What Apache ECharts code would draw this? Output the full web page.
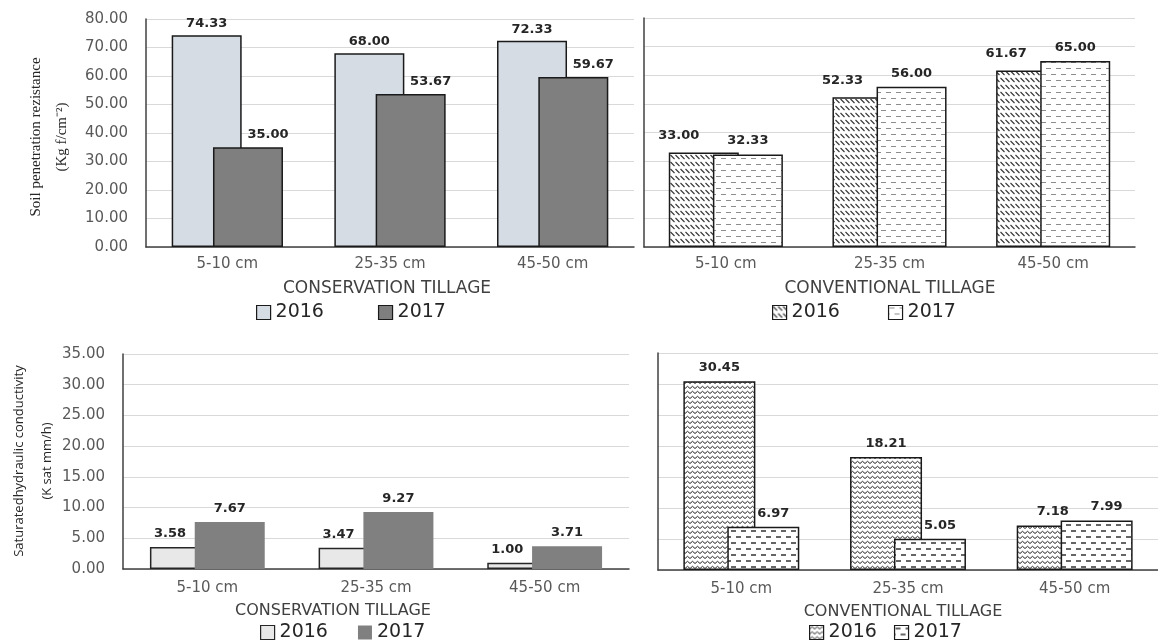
<!DOCTYPE html>
<html><head><meta charset="utf-8">
<script src="https://cdn.jsdelivr.net/npm/echarts@6/dist/echarts.min.js"></script>
<style>html,body{margin:0;padding:0;background:#fff}#c{width:1158px;height:644px}</style>
</head><body><div id="c"></div>
<script>
// ---- data ----
const depths = ['5-10 cm', '25-35 cm', '45-50 cm'];
const years = ['2016', '2017'];
const resistConservation2016 = [74.33, 68.00, 72.33];
const resistConservation2017 = [35.00, 53.67, 59.67];
const resistConventional2016 = [33.00, 52.33, 61.67];
const resistConventional2017 = [32.33, 56.00, 65.00];
const ksatConservation2016 = [3.58, 3.47, 1.00];
const ksatConservation2017 = [7.67, 9.27, 3.71];
const ksatConventional2016 = [30.45, 18.21, 7.18];
const ksatConventional2017 = [6.97, 5.05, 7.99];
const resistAxis = { min: 0, max: 80, interval: 10 };
const ksatAxis = { min: 0, max: 35, interval: 5 };
const panelTitles = ['CONSERVATION TILLAGE', 'CONVENTIONAL TILLAGE'];
const resistName = ['Soil penetration rezistance', '(Kg f/cm\u207B\u00B2)'];
const ksatName = ['Saturatedhydraulic conductivity', '(K sat mm/h)'];

// ---- patterns ----
function pattern(w, h, draw) {
  const c = document.createElement('canvas');
  c.width = w; c.height = h;
  const g = c.getContext('2d');
  g.fillStyle = '#fff'; g.fillRect(0, 0, w, h);
  draw(g);
  return { image: c, repeat: 'repeat' };
}
const diagPat = pattern(5, 7, g => {
  g.strokeStyle = '#333'; g.lineWidth = 1.1;
  g.beginPath(); g.moveTo(0.5, 1); g.lineTo(4.5, 5); g.stroke();
});
const lightDashPat = pattern(10, 12, g => {
  g.strokeStyle = '#8c8c8c'; g.lineWidth = 1;
  g.beginPath();
  g.moveTo(1, 2.5); g.lineTo(6, 2.5);
  g.moveTo(6, 8.5); g.lineTo(11, 8.5);
  g.moveTo(-4, 8.5); g.lineTo(1, 8.5);
  g.stroke();
});
const wavePat = pattern(5, 5, g => {
  g.strokeStyle = '#222'; g.lineWidth = 1;
  g.beginPath(); g.moveTo(0, 3.5); g.lineTo(2.5, 1.3); g.lineTo(5, 3.5); g.stroke();
});
const darkDashPat = pattern(10, 12, g => {
  g.strokeStyle = '#333'; g.lineWidth = 1.3;
  g.beginPath();
  g.moveTo(1, 3); g.lineTo(6, 3);
  g.moveTo(6, 9); g.lineTo(11, 9);
  g.moveTo(-4, 9); g.lineTo(1, 9);
  g.stroke();
});

// ---- styles ----
const FONT = 'DejaVu Sans';
const AX = '#404040';
const fmt = v => Number(v).toFixed(2);
const styles = {
  tl16: { color: '#d6dce4', borderColor: '#1a1a1a', borderWidth: 1.5 },
  tl17: { color: '#7f7f7f', borderColor: '#1a1a1a', borderWidth: 1.5 },
  tr16: { color: diagPat, borderColor: '#1a1a1a', borderWidth: 1.5 },
  tr17: { color: lightDashPat, borderColor: '#1a1a1a', borderWidth: 1.5 },
  bl16: { color: '#e8e8e8', borderColor: '#262626', borderWidth: 1.5 },
  bl17: { color: '#808080', borderWidth: 0 },
  br16: { color: wavePat, borderColor: '#1a1a1a', borderWidth: 1.5 },
  br17: { color: darkDashPat, borderColor: '#1a1a1a', borderWidth: 1.5 }
};

const grids = [
  { left: 146, top: 19, width: 488, height: 228 },
  { left: 644, top: 18, width: 491, height: 229 },
  { left: 123, top: 354, width: 506, height: 215 },
  { left: 658, top: 353, width: 512, height: 217 }
];

const xAxes = grids.map((g, i) => ({
  type: 'category', gridIndex: i, data: depths,
  axisLine: { lineStyle: { color: AX, width: 1.5 } },
  axisTick: { show: false },
  axisLabel: { color: '#595959', fontSize: 15, fontFamily: FONT, margin: i < 2 ? 10 : 12 }
}));
const yAxes = grids.map((g, i) => {
  const sc = i < 2 ? resistAxis : ksatAxis;
  return {
    type: 'value', gridIndex: i, min: sc.min, max: sc.max, interval: sc.interval,
    axisLine: { show: true, lineStyle: { color: AX, width: 1.5 } },
    axisTick: { show: false },
    splitLine: { lineStyle: { color: '#d9d9d9', width: 1.2 } },
    axisLabel: { show: i % 2 === 0, formatter: fmt, color: '#595959', fontSize: 15, fontFamily: FONT, margin: 18 }
  };
});

function bar(name, idx, data, style, width, gap, offset, dist) {
  return {
    type: 'bar', name: name, xAxisIndex: idx, yAxisIndex: idx, data: data,
    barWidth: width, barGap: gap, itemStyle: style,
    label: {
      show: true, position: 'top', distance: dist, offset: offset, formatter: p => fmt(p.value),
      fontFamily: FONT, fontWeight: 'bold', fontSize: 13, color: '#262626'
    },
    emphasis: { disabled: true }
  };
}

const series = [
  bar(years[0], 0, resistConservation2016, styles.tl16, 70, '-41%', [0, 0], 5),
  bar(years[1], 0, resistConservation2017, styles.tl17, 70, '-41%', [20, 0], 6),
  bar(years[0], 1, resistConventional2016, styles.tr16, 70, '-37%', [-25, -2], 8),
  bar(years[1], 1, resistConventional2017, styles.tr17, 70, '-37%', [0, 0], 7),
  bar(years[0], 2, ksatConservation2016, styles.bl16, 70, '-36%', [-15, 0], 7),
  bar(years[1], 2, ksatConservation2017, styles.bl17, 70, '-36%', [0, 0], 7),
  bar(years[0], 3, ksatConventional2016, styles.br16, 72, '-39%', [0, 0], 7),
  bar(years[1], 3, ksatConventional2017, styles.br17, 72, '-39%', [10, 0], 7)
];

function legend(left, top, gap, s16, s17) {
  return {
    left: left, top: top, padding: 0, itemGap: gap, itemWidth: 14, itemHeight: 14,
    icon: 'rect', selectedMode: false,
    textStyle: { fontFamily: FONT, fontSize: 19, color: '#262626' },
    data: [
      { name: years[0], itemStyle: s16 },
      { name: years[1], itemStyle: s17 }
    ]
  };
}
const lw = { borderWidth: 1.2 };
const legends = [
  legend(256, 303, 54, Object.assign({}, styles.tl16, lw), Object.assign({}, styles.tl17, lw)),
  legend(772, 303, 48, Object.assign({}, styles.tr16, lw), Object.assign({}, styles.tr17, lw)),
  legend(260, 623, 30, Object.assign({}, styles.bl16, lw), styles.bl17),
  legend(809, 623, 17, Object.assign({}, styles.br16, lw), Object.assign({}, styles.br17, lw))
];

function txt(x, y, text, font, size, color, rot) {
  return {
    type: 'text', x: x, y: y, rotation: rot || 0, silent: true,
    style: { text: text, fontFamily: font, fontSize: size, fill: color,
      align: 'center', verticalAlign: 'middle', textAlign: 'center', textVerticalAlign: 'middle' }
  };
}
const R = Math.PI / 2;
const graphics = [
  txt(387, 289, panelTitles[0], FONT, 17, '#404040'),
  txt(890, 289, panelTitles[1], FONT, 17, '#404040'),
  txt(333, 611, panelTitles[0], FONT, 16, '#404040'),
  txt(903, 612, panelTitles[1], FONT, 16, '#404040'),
  txt(36, 137, resistName[0], 'Liberation Serif', 15, '#262626', R),
  txt(62, 137, resistName[1], 'Liberation Serif', 15, '#262626', R),
  txt(19, 461, ksatName[0], 'Open Sans', 13, '#262626', R),
  txt(47, 461, ksatName[1], 'Open Sans', 13, '#262626', R)
];

const chart = echarts.init(document.getElementById('c'), null, { renderer: 'canvas' });
chart.setOption({
  backgroundColor: '#ffffff',
  animation: false,
  grid: grids,
  xAxis: xAxes,
  yAxis: yAxes,
  legend: legends,
  series: series,
  graphic: graphics
});
</script>
</body></html>
